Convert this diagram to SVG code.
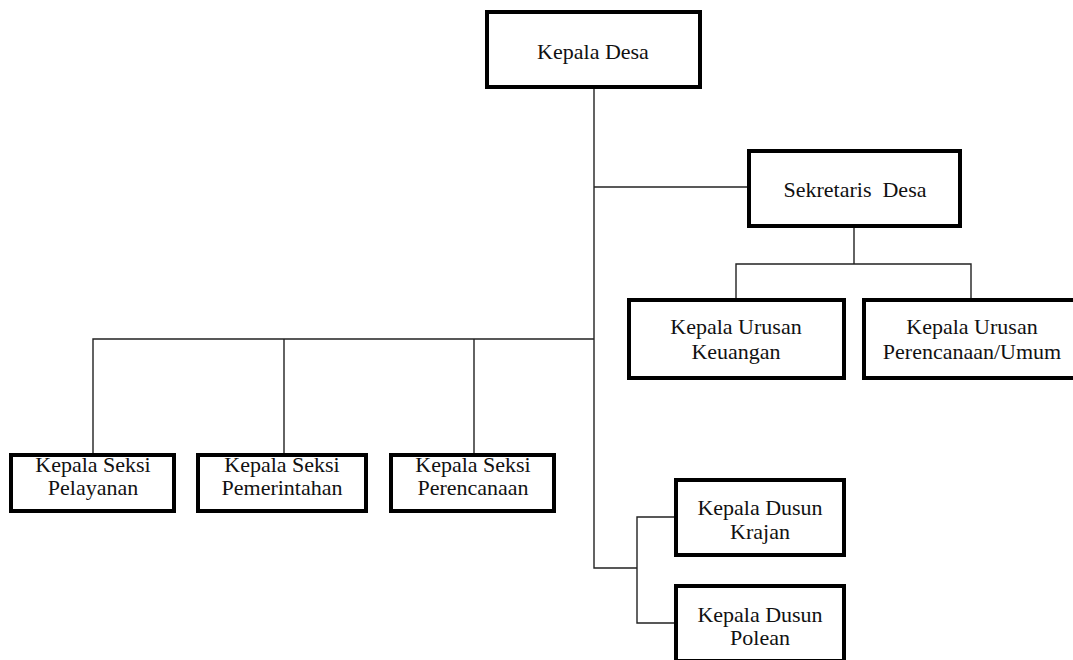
<svg xmlns="http://www.w3.org/2000/svg" width="1073" height="660" viewBox="0 0 1073 660">
<style>
.box{fill:#ffffff;stroke:#000000;stroke-width:4}
.lbl{font-family:"Liberation Serif","Times New Roman",serif;font-size:22px;fill:#111111;text-anchor:middle}
.conn{fill:none;stroke:#222222;stroke-width:1.4}
</style>
<rect width="1073" height="660" fill="#ffffff"/>
<g id="connectors">
<path class="conn" d="M594,89 V568 H637"/>
<path class="conn" d="M594,187 H747"/>
<path class="conn" d="M854,228 V264"/>
<path class="conn" d="M736,298 V264 H971 V298"/>
<path class="conn" d="M93,453 V339 H594"/>
<path class="conn" d="M284,339 V453"/>
<path class="conn" d="M474,339 V453"/>
<path class="conn" d="M674,517 H637 V623 H674"/>
</g>
<g id="kepala-desa">
<rect class="box" x="487" y="12" width="213" height="75"/>
<text class="lbl" x="593" y="59">Kepala Desa</text>
</g>
<g id="sekretaris-desa">
<rect class="box" x="749" y="151" width="211" height="75"/>
<text class="lbl" x="855" y="197" xml:space="preserve">Sekretaris  Desa</text>
</g>
<g id="kaur-keuangan">
<rect class="box" x="629" y="300" width="215" height="78"/>
<text class="lbl" x="736" y="334">Kepala Urusan</text>
<text class="lbl" x="736" y="359">Keuangan</text>
</g>
<g id="kaur-perencanaan-umum">
<rect class="box" x="864" y="300" width="215" height="78"/>
<text class="lbl" x="972" y="334">Kepala Urusan</text>
<text class="lbl" x="972" y="359">Perencanaan/Umum</text>
</g>
<g id="kasi-pelayanan">
<rect class="box" x="11" y="455" width="163" height="56"/>
<text class="lbl" x="93" y="472">Kepala Seksi</text>
<text class="lbl" x="93" y="495">Pelayanan</text>
</g>
<g id="kasi-pemerintahan">
<rect class="box" x="198" y="455" width="168" height="56"/>
<text class="lbl" x="282" y="472">Kepala Seksi</text>
<text class="lbl" x="282" y="495">Pemerintahan</text>
</g>
<g id="kasi-perencanaan">
<rect class="box" x="391" y="455" width="163" height="56"/>
<text class="lbl" x="473" y="472">Kepala Seksi</text>
<text class="lbl" x="473" y="495">Perencanaan</text>
</g>
<g id="kadus-krajan">
<rect class="box" x="676" y="480" width="168" height="75"/>
<text class="lbl" x="760" y="515">Kepala Dusun</text>
<text class="lbl" x="760" y="539">Krajan</text>
</g>
<g id="kadus-polean">
<rect class="box" x="676" y="586" width="168" height="75"/>
<text class="lbl" x="760" y="622">Kepala Dusun</text>
<text class="lbl" x="760" y="645">Polean</text>
</g>
</svg>
